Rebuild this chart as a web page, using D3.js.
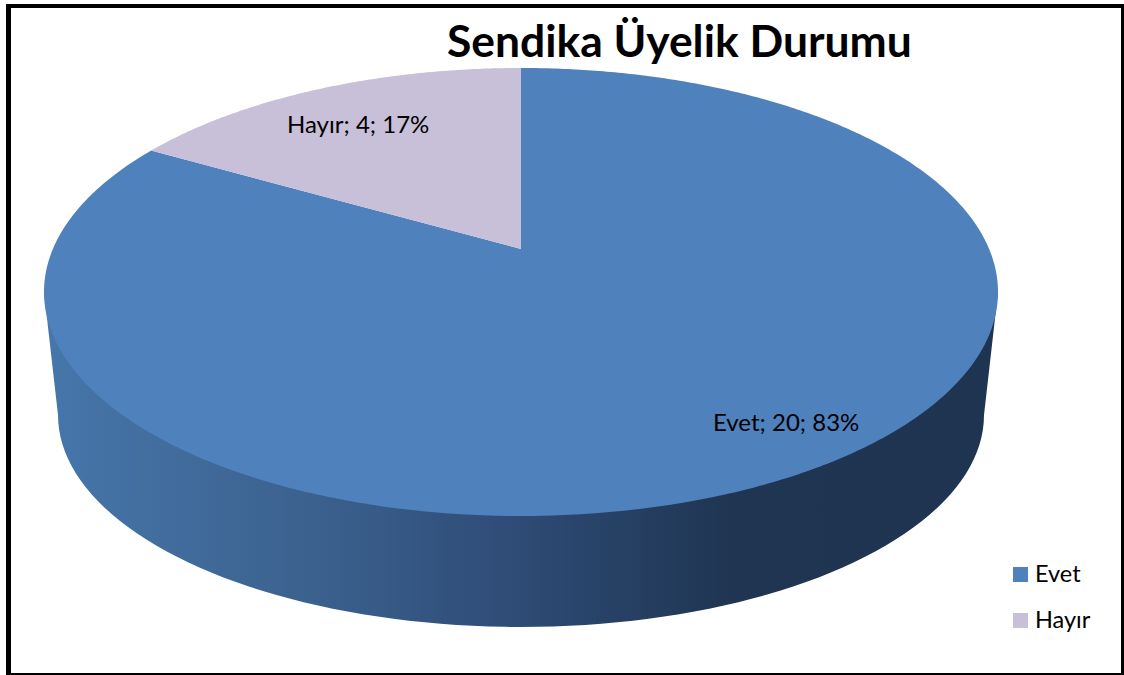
<!DOCTYPE html>
<html>
<head>
<meta charset="utf-8">
<script src="https://cdn.jsdelivr.net/npm/d3@7"></script>
<style>
  html, body { margin: 0; padding: 0; background: #fff; }
  svg { display: block; }
  text { font-family: Lato, "Open Sans", sans-serif; fill: #000; }
</style>
</head>
<body>
<div id="chart"></div>
<script>
var categories = ["Evet", "Hayır"];
var values = [20, 4];
var percents = [83, 17];
var colors = ["#4f81bd", "#c8bfd8"];

var width = 1124, height = 675;

var svg = d3.select("#chart").append("svg")
    .attr("width", width)
    .attr("height", height);

// top disc and lower rim ellipses (the picture has perspective)
var topE = { cx: 521, cy: 292, rx: 477, ry: 224 };
var lowE = { cx: 521, cy: 415, rx: 463, ry: 212 };
var tipShift = (249 - topE.cy) / topE.ry;

// polar position on the disc -> screen, keeps the pie centre off the ellipse centre
function project(e, a, r) {
    var u = r * Math.sin(a), v = -r * Math.cos(a);
    var k = 1 + tipShift * v;
    return [
        e.cx + e.rx * u * Math.sqrt(1 - tipShift * tipShift) / k,
        e.cy + e.ry * (v + tipShift) / k
    ];
}

var line = d3.line();

var defs = svg.append("defs");
var grad = defs.append("linearGradient")
    .attr("id", "wall")
    .attr("gradientUnits", "userSpaceOnUse")
    .attr("x1", 44).attr("x2", 998).attr("y1", 0).attr("y2", 0);
[[0, "#4676ab"], [0.27, "#3c628f"], [0.48, "#2f4d78"], [0.72, "#1f3552"], [1, "#1e3450"]]
    .forEach(function (s) {
        grad.append("stop").attr("offset", s[0]).attr("stop-color", s[1]);
    });

// side wall: lower half of the small ellipse, back up to the top disc
var wallPts = [[topE.cx + topE.rx, topE.cy]];
d3.range(0, 181, 2).forEach(function (t) {
    var a = t * Math.PI / 180;
    wallPts.push([lowE.cx + lowE.rx * Math.cos(a), lowE.cy + lowE.ry * Math.sin(a)]);
});
wallPts.push([topE.cx - topE.rx, topE.cy]);
svg.append("path")
    .attr("d", line(wallPts) + "Z")
    .attr("fill", "url(#wall)");

// slices, starting at twelve o'clock
var pie = d3.pie().sort(null).value(function (d) { return d; });
var arcs = pie(values);

svg.append("g").selectAll("path")
    .data(arcs)
    .enter().append("path")
    .attr("d", function (d) {
        var pts = [project(topE, 0, 0)];
        var n = Math.ceil((d.endAngle - d.startAngle) / 0.01);
        d3.range(n + 1).forEach(function (i) {
            pts.push(project(topE, d.startAngle + (d.endAngle - d.startAngle) * i / n, 1));
        });
        return line(pts) + "Z";
    })
    .attr("fill", function (d, i) { return colors[i]; });

// data labels
var labelPos = [[713, 431], [287, 133]];
svg.append("g").selectAll("text")
    .data(categories)
    .enter().append("text")
    .attr("x", function (d, i) { return labelPos[i][0]; })
    .attr("y", function (d, i) { return labelPos[i][1]; })
    .style("font-size", "24px")
    .text(function (d, i) { return d + "; " + values[i] + "; " + percents[i] + "%"; });

// title
svg.append("text")
    .attr("x", 447)
    .attr("y", 57)
    .style("font-size", "44.4px")
    .style("font-weight", "700")
    .text("Sendika Üyelik Durumu");

// legend
var legendY = d3.scalePoint().domain(categories).range([567, 613]);
var legend = svg.append("g").selectAll("g")
    .data(categories)
    .enter().append("g")
    .attr("transform", function (d) { return "translate(1013," + legendY(d) + ")"; });
legend.append("rect")
    .attr("width", 15)
    .attr("height", 15)
    .attr("fill", function (d, i) { return colors[i]; });
legend.append("text")
    .attr("x", 22)
    .attr("y", 15)
    .style("font-size", "23.5px")
    .text(function (d) { return d; });

// outer frame, the left side is a bit heavier
svg.append("rect")
    .attr("x", 8.5).attr("y", 6)
    .attr("width", 1114.5).attr("height", 669)
    .attr("fill", "none")
    .attr("stroke", "#000")
    .attr("stroke-width", 4);
svg.append("rect")
    .attr("x", 6).attr("y", 4)
    .attr("width", 5).attr("height", 671)
    .attr("fill", "#000");
</script>
</body>
</html>
